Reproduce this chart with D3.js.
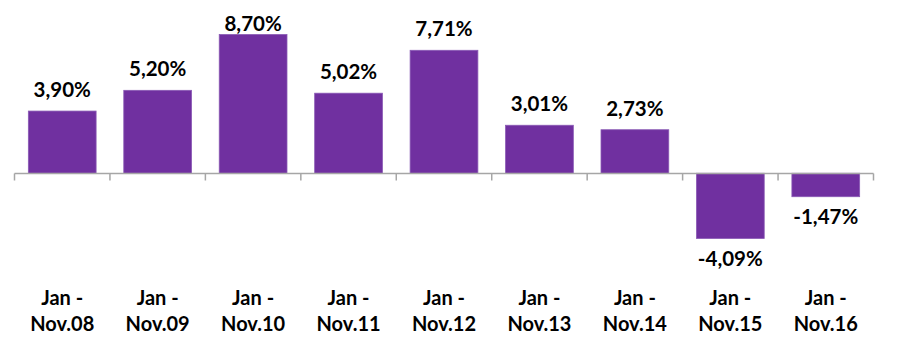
<!DOCTYPE html>
<html>
<head>
<meta charset="utf-8">
<script src="https://cdn.jsdelivr.net/npm/d3@7"></script>
<style>
  body { margin: 0; background: #fff; }
  text { font-family: Lato, "Open Sans", sans-serif; font-weight: bold; fill: #000; }
</style>
</head>
<body>
<div class="chart"></div>
<script>
// chart data
var periods = ["Nov.08", "Nov.09", "Nov.10", "Nov.11", "Nov.12", "Nov.13", "Nov.14", "Nov.15", "Nov.16"];
var growth = [3.90, 5.20, 8.70, 5.02, 7.71, 3.01, 2.73, -4.09, -1.47];
var labelTop = "Jan -";

var svgWidth = 905;
var svgHeight = 360;

var svg = d3.select(".chart")
    .append("svg")
    .attr("width", svgWidth)
    .attr("height", svgHeight);

// x band scale over the categories
var x = d3.scaleBand()
    .domain(periods)
    .range([14.5, 873.5])
    .paddingInner(0.29)
    .paddingOuter(0.145);

// linear y scale, zero at ~174
var y = d3.scaleLinear()
    .domain([-4.09, 8.70])
    .range([238.5, 34.5]);

var data = periods.map(function(p, i) { return { period: p, value: growth[i] }; });

// bars
svg.selectAll("rect.bar")
    .data(data)
    .enter()
    .append("rect")
    .attr("class", "bar")
    .attr("x", d => x(d.period))
    .attr("width", x.bandwidth())
    .attr("y", d => y(Math.max(0, d.value)))
    .attr("height", d => Math.abs(y(d.value) - y(0)))
    .attr("fill", "#7030a0")
    .attr("stroke", "#8a5ab5")
    .attr("stroke-width", 0.8);

// axis line with ticks between categories
var zero = Math.round(y(0)) + 0.5;
var axisG = svg.append("g").attr("stroke", "#a6a6a6").attr("stroke-width", 1.5);
axisG.append("line")
    .attr("x1", x.range()[0]).attr("x2", x.range()[1])
    .attr("y1", zero).attr("y2", zero);
d3.range(periods.length + 1).forEach(function(i) {
    var tx = x.range()[0] + i * (x.range()[1] - x.range()[0]) / periods.length;
    axisG.append("line")
        .attr("x1", tx).attr("x2", tx)
        .attr("y1", zero).attr("y2", zero + 7);
});

// value labels (kept inside the top edge)
var fmt = function(v) { return v.toFixed(2).replace(".", ",") + "%"; };
svg.selectAll("text.val")
    .data(data)
    .enter()
    .append("text")
    .attr("class", "val")
    .attr("text-anchor", "middle")
    .attr("font-size", "20.5px")
    .attr("x", d => x(d.period) + x.bandwidth() / 2)
    .attr("y", d => d.value >= 0 ? Math.max(31, y(d.value) - 14) : y(d.value) + 27)
    .text(d => fmt(d.value));

// category labels (two lines)
var cat = svg.selectAll("text.cat")
    .data(periods)
    .enter()
    .append("text")
    .attr("class", "cat")
    .attr("text-anchor", "middle")
    .attr("font-size", "20px")
    .attr("x", d => x(d) + x.bandwidth() / 2);
cat.append("tspan").attr("x", d => x(d) + x.bandwidth() / 2).attr("y", 304.5).text(labelTop);
cat.append("tspan").attr("x", d => x(d) + x.bandwidth() / 2).attr("y", 330.5).text(d => d);
</script>
</body>
</html>
